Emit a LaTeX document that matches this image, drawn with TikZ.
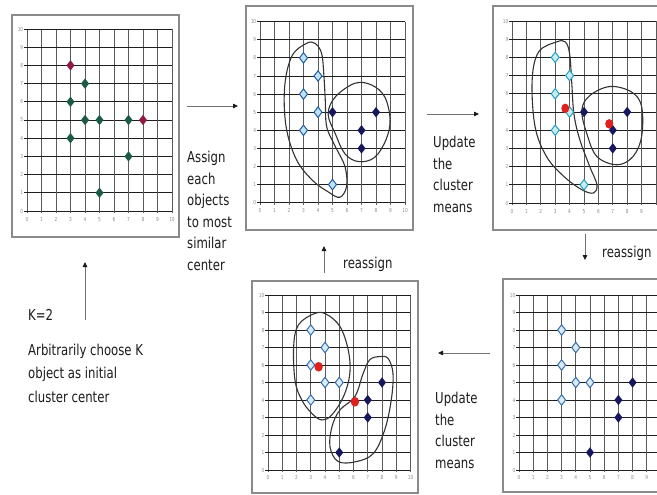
\documentclass[tikz,border=0pt]{standalone}
\usepackage{fontspec}
\setmainfont[FakeStretch=0.78]{DejaVu Sans}
\usetikzlibrary{arrows.meta}
\definecolor{gridh}{HTML}{1E1E1E}
\definecolor{gridv}{HTML}{5A5A5A}
\definecolor{framec}{HTML}{8A8A8A}
\definecolor{greenpt}{HTML}{1D5B47}
\definecolor{maroonpt}{HTML}{8F1D47}
\definecolor{navypt}{HTML}{17175E}
\definecolor{ltfillA}{HTML}{BFE3F2}
\definecolor{ltdrawA}{HTML}{1E5AA0}
\definecolor{ltfillB}{HTML}{C4EEF4}
\definecolor{ltdrawB}{HTML}{2A9EC0}
\definecolor{ltfillC}{HTML}{D8ECF8}
\definecolor{ltdrawC}{HTML}{3A6EA8}
\definecolor{meanred}{HTML}{E0201C}
\definecolor{txtc}{HTML}{1C1C1C}
\newcommand\dmd[3]{\path[#1] (#2,#3) +(-4pt,0) -- +(0,5.2pt) -- +(4pt,0) -- +(0,-5.2pt) -- cycle;}
% #1 name prefix, #2 last x label shown
\newcommand\gridlines[2]{%
  \foreach \i in {0,...,10} {
    \draw[vl] (\i,-0.12) -- (\i,10);
    \draw[hl] (-0.2,\i) -- (10,\i);
    \node[tick,anchor=east] (#1y\i) at (-0.22,\i) {\i};
  }
  \foreach \i in {0,...,#2} {
    \node[tick,anchor=north] (#1x\i) at (\i,-0.3) {\i};
  }}
\begin{document}
\begin{tikzpicture}[x=1pt,y=-1pt,
  frame/.style={draw=framec,line width=1.4pt,fill=white},
  hl/.style={draw=gridh,line width=0.9pt},
  vl/.style={draw=gridv,line width=0.8pt},
  tick/.style={font=\fontsize{5.5}{5.5}\selectfont,text=black!45,inner sep=0.4pt},
  blob/.style={draw=black!80,line width=1.1pt},
  ltA/.style={fill=ltfillA,draw=ltdrawA,line width=1pt},
  ltB/.style={fill=ltfillB,draw=ltdrawB,line width=1pt},
  ltC/.style={fill=ltfillC,draw=ltdrawC,line width=1pt},
  dk/.style={fill=navypt},
  gr/.style={fill=greenpt},
  mr/.style={fill=maroonpt},
  mean/.style={fill=meanred},
  txt/.style={font=\fontsize{15}{21.5}\selectfont,text=txtc,align=left,inner sep=0pt},
  arr/.style={draw=black!55,line width=0.8pt,-{Triangle[length=5pt,width=4.5pt,color=black!90]}}]
\useasboundingbox (0,0) rectangle (657,495);
\fill[white] (0,0) rectangle (657,495);

% ---------- panel 1 ----------
\draw[frame] (12,15) rectangle (179,237);
\begin{scope}[shift={(27,211)},x=14.5pt,y=18.2pt]
  \gridlines{pa}{10}
  \foreach \p/\q in {4/7,3/6,4/5,5/5,7/5,3/4,7/3,5/1} {\dmd{gr}{\p}{\q}}
  \dmd{mr}{3}{8}
  \dmd{mr}{8}{5}
\end{scope}

% ---------- panel 2 ----------
\draw[frame] (246,6) rectangle (413,230);
\begin{scope}[shift={(260,202.7)},x=14.5pt,y=18.1pt]
  \gridlines{pb}{10}
  \draw[blob] plot[smooth cycle,tension=0.6] coordinates {(3.2,8.8) (2.2,8.1) (1.7,6.4) (1.8,4.2) (2.5,2.4) (3.6,1.25) (4.7,0.6) (5.5,0.3) (5.97,0.9) (5.86,2.0) (5.2,3.1) (4.6,4.2) (4.5,5.7) (4.4,7.1) (4.25,8.25) (3.8,8.8)};
  \draw[blob] plot[smooth cycle,tension=0.6] coordinates {(6.55,6.6) (5.2,5.85) (4.7,4.9) (5.2,3.8) (5.86,2.7) (6.8,2.27) (7.9,2.5) (8.7,3.5) (8.97,4.6) (8.6,5.85) (7.7,6.5)};
  \foreach \p/\q in {3/8,4/7,3/6,4/5,3/4,5/1} {\dmd{ltA}{\p}{\q}}
  \foreach \p/\q in {5/5,8/5,7/4,7/3} {\dmd{dk}{\p}{\q}}
\end{scope}

% ---------- panel 3 ----------
\draw[frame] (493,6) rectangle (672,230);
\begin{scope}[shift={(512,203)},x=14.4pt,y=18.2pt]
  \gridlines{pc}{9}
  \draw[blob] plot[smooth cycle,tension=0.6] coordinates {(3.1,8.85) (1.85,8.3) (1.4,6.75) (1.6,4.2) (2.4,2.55) (3.6,1.46) (4.85,0.73) (5.66,0.55) (5.9,1.0) (5.4,2.0) (4.7,3.5) (4.3,4.9) (4.15,6.6) (4.0,8.2) (3.7,8.85)};
  \draw[blob] plot[smooth cycle,tension=0.6] coordinates {(6.8,6.4) (5.4,5.9) (4.85,5.1) (5.2,3.8) (5.9,2.55) (7.3,2.1) (8.4,2.55) (9.0,3.65) (9.0,5.3) (8.3,6.1)};
  \foreach \p/\q in {3/8,4/7,3/6,4/5,3/4,5/1} {\dmd{ltB}{\p}{\q}}
  \foreach \p/\q in {5/5,8/5,7/4,7/3} {\dmd{dk}{\p}{\q}}
  \fill[mean] (3.7,5.2) ellipse[x radius=4pt,y radius=4.8pt];
  \fill[mean] (6.75,4.35) ellipse[x radius=4pt,y radius=4.8pt];
\end{scope}

% ---------- panel 4 (bottom right) ----------
\draw[frame] (503,279) rectangle (672,492);
\begin{scope}[shift={(519,470)},x=14.2pt,y=17.5pt]
  \gridlines{pd}{9}
  \foreach \p/\q in {3/8,4/7,3/6,4/5,5/5,3/4} {\dmd{ltC}{\p}{\q}}
  \foreach \p/\q in {8/5,7/4,7/3,5/1} {\dmd{dk}{\p}{\q}}
\end{scope}

% ---------- panel 5 (bottom middle) ----------
\draw[frame] (252,281) rectangle (418,493);
\begin{scope}[shift={(268,470)},x=14.25pt,y=17.5pt]
  \gridlines{pe}{10}
  \draw[blob] plot[smooth cycle,tension=0.6] coordinates {(3.3,8.95) (2.14,8.3) (1.8,7.05) (1.9,5.1) (2.37,4.0) (3.07,3.24) (3.77,2.86) (4.47,3.14) (5.3,4.2) (5.74,5.5) (5.63,6.86) (5.05,8.2) (4.1,8.9)};
  \draw[blob] plot[smooth cycle,tension=0.6] coordinates {(7.84,6.48) (7.14,6.3) (6.67,5.5) (6.1,4.2) (5.05,3.43) (4.5,2.5) (4.35,1.33) (4.93,0.48) (6.2,0.48) (7.4,0.95) (8.19,2.29) (8.65,4.0) (8.77,5.52) (8.42,6.38)};
  \foreach \p/\q in {3/8,4/7,3/6,4/5,5/5,3/4} {\dmd{ltC}{\p}{\q}}
  \foreach \p/\q in {8/5,7/4,7/3,5/1} {\dmd{dk}{\p}{\q}}
  \fill[mean] (3.55,5.9) ellipse[x radius=4.2pt,y radius=4.8pt];
  \fill[mean] (6.1,3.9) ellipse[x radius=4.2pt,y radius=4.8pt];
\end{scope}

% ---------- texts (base anchor = last line) ----------
\node[txt,anchor=base west] (assign) at (187,270) {Assign\\each\\objects\\to most\\similar\\center};
\node[txt,anchor=base west] (upd1) at (433,212) {Update\\the\\cluster\\means};
\node[txt,anchor=base west] (upd2) at (435,468) {Update\\the\\cluster\\means};
\node[txt,anchor=base west] (re1) at (602,257) {reassign};
\node[txt,anchor=base west] (re2) at (343,268) {reassign};
\node[txt,anchor=base west] (k2) at (28,320) {K=2};
\node[txt,anchor=base west,font=\fontsize{15}{23.5}\selectfont] (arb) at (28,402) {Arbitrarily choose K\\object as initial\\cluster center};

% ---------- arrows ----------
\coordinate (a1s) at (187,106); \coordinate (a1e) at (238,106);
\coordinate (a2s) at (427,114); \coordinate (a2e) at (479,114);
\coordinate (a3s) at (585,234); \coordinate (a3e) at (585,260);
\coordinate (a4s) at (490,353); \coordinate (a4e) at (438,353);
\coordinate (a5s) at (324,273); \coordinate (a5e) at (324,246);
\coordinate (a6s) at (85,320);  \coordinate (a6e) at (85,262);
\draw[arr] (a1s) -- (a1e);
\draw[arr] (a2s) -- (a2e);
\draw[arr] (a3s) -- (a3e);
\draw[arr] (a4s) -- (a4e);
\draw[arr] (a5s) -- (a5e);
\draw[arr] (a6s) -- (a6e);
\end{tikzpicture}
\end{document}
